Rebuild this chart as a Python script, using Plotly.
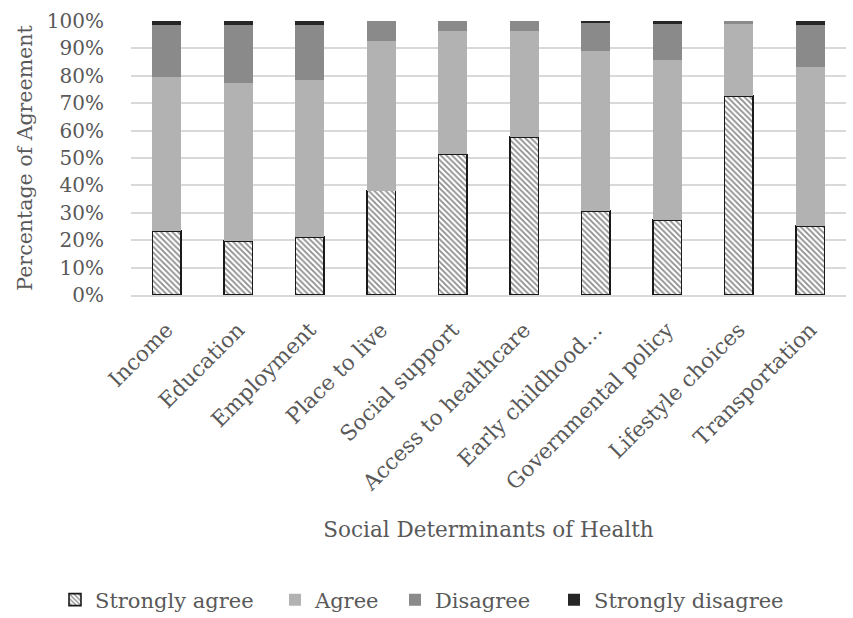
import plotly.graph_objects as go

categories = [
    "Income", "Education", "Employment", "Place to live", "Social support",
    "Access to healthcare", "Early childhood…", "Governmental policy",
    "Lifestyle choices", "Transportation",
]

strongly_agree = [23.4, 19.8, 21.2, 38.1, 51.3, 57.7, 30.7, 27.3, 72.6, 25.2]
agree = [56.0, 57.7, 57.3, 54.5, 45.1, 38.8, 58.2, 58.5, 26.2, 57.9]
disagree = [19.1, 21.2, 19.9, 7.4, 3.6, 3.5, 10.2, 13.0, 1.2, 15.6]
strongly_disagree = [1.5, 1.3, 1.6, 0.0, 0.0, 0.0, 0.9, 1.2, 0.0, 1.3]

FONT = "DejaVu Serif"
TEXT = "#595959"
W, H = 853, 618

fig = go.Figure()
fig.add_bar(
    name="Strongly agree", x=categories, y=strongly_agree, legend="legend",
    marker=dict(
        color="white",
        line=dict(color="#1a1a1a", width=1.6),
        pattern=dict(shape="\\", fgcolor="#1a1a1a", bgcolor="white", size=4, solidity=0.45),
    ),
)
fig.add_bar(name="Agree", x=categories, y=agree, legend="legend2",
            marker=dict(color="#b2b2b2", line=dict(width=0)))
fig.add_bar(name="Disagree", x=categories, y=disagree, legend="legend3",
            marker=dict(color="#8a8a8a", line=dict(width=0)))
fig.add_bar(name="Strongly disagree", x=categories, y=strongly_disagree, legend="legend4",
            marker=dict(color="#262626", line=dict(width=0)))


def legend_at(px_left):
    # one-entry legend pinned at a pixel position along the bottom row
    return dict(
        orientation="h", xref="container", yref="container",
        x=px_left / W, xanchor="left",
        y=1 - 600 / H, yanchor="middle",
        font=dict(family=FONT, color=TEXT, size=21),
        itemwidth=30, bgcolor="rgba(0,0,0,0)",
    )


fig.update_layout(
    barmode="stack",
    bargap=0.6,
    width=W, height=H,
    margin=dict(l=131, r=7, t=21, b=323, autoexpand=False),
    paper_bgcolor="white", plot_bgcolor="white",
    font=dict(family=FONT, color=TEXT, size=20),
    showlegend=True,
    legend=legend_at(55),
    legend2=legend_at(275),
    legend3=legend_at(395),
    legend4=legend_at(554),
    xaxis=dict(
        tickangle=-45, showgrid=False, ticks="",
        showline=True, linecolor="#d9d9d9", linewidth=1.5,
        ticklabelstandoff=12, automargin=False,
        tickfont=dict(family=FONT, color=TEXT, size=21.5),
        title=dict(text="Social Determinants of Health",
                   font=dict(family=FONT, color=TEXT, size=21.5), standoff=27),
    ),
    yaxis=dict(
        range=[0, 100], dtick=10, ticksuffix="%",
        showgrid=True, gridcolor="#d9d9d9", gridwidth=1.5,
        zeroline=False, ticks="", ticklabelstandoff=26, automargin=False,
        tickfont=dict(family=FONT, color=TEXT, size=20),
        title=dict(text="Percentage of Agreement",
                   font=dict(family=FONT, color=TEXT, size=20.5), standoff=8),
    ),
)

fig.write_html("out.html")
